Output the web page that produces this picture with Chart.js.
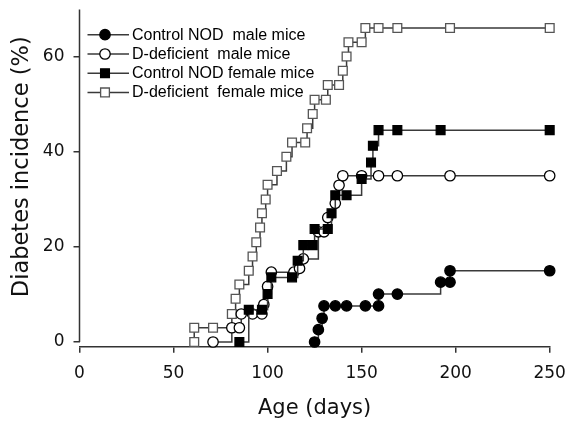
<!DOCTYPE html>
<html><head><meta charset="utf-8">
<script src="https://cdn.jsdelivr.net/npm/chart.js@4.4.0/dist/chart.umd.min.js"></script>
<style>html,body{margin:0;padding:0;background:#fff}#wrap{width:569px;height:423px}</style>
</head><body><div id="wrap"><canvas id="c" width="569" height="423"></canvas></div>
<script>
// ---- data ----
const seriesLabels = ['Control NOD  male mice', 'D-deficient  male mice', 'Control NOD female mice', 'D-deficient  female mice'];

const maleCtrlDays = [125, 127, 129, 130, 136, 142, 152, 159, 159, 169, 192, 197, 197, 250];
const maleCtrlPct  = [0, 2.6, 5.0, 7.6, 7.6, 7.6, 7.6, 7.6, 10.1, 10.1, 12.6, 12.6, 15.0, 15.0];

const maleDefDays = [71, 81, 85, 86, 92, 97, 98, 100, 102, 114, 117, 119, 127, 130, 132, 136, 138, 140, 150, 159, 169, 197, 250];
const maleDefPct  = [0, 3.0, 3.0, 5.9, 5.9, 5.9, 7.9, 11.7, 14.7, 14.7, 15.5, 17.5, 23.2, 23.2, 26.2, 29.2, 33.0, 35.0, 35.0, 35.0, 35.0, 35.0, 35.0];

const femaleCtrlDays = [85, 90, 97, 100, 102, 113, 116, 119, 124, 125, 132, 134, 136, 142, 150, 155, 156, 159, 169, 192, 250];
const femaleCtrlPct  = [0, 6.8, 6.8, 10.1, 13.6, 13.6, 17.1, 20.4, 20.4, 23.8, 23.8, 27.1, 30.9, 30.9, 34.3, 37.8, 41.3, 44.6, 44.6, 44.6, 44.6];

const femaleDefDays = [61, 61, 71, 81, 83, 85, 90, 92, 94, 96, 97, 99, 100, 105, 110, 113, 120, 121, 124, 125, 131, 132, 138, 140, 142, 143, 150, 152, 159, 169, 197, 250];
const femaleDefPct  = [0, 3.0, 3.0, 5.9, 9.1, 12.1, 15.0, 18.0, 21.0, 24.1, 27.1, 30.0, 33.1, 36.0, 39.0, 42.0, 42.0, 45.0, 48.0, 51.0, 51.0, 54.1, 54.1, 57.1, 60.1, 63.1, 63.1, 66.1, 66.1, 66.1, 66.1, 66.1];

const xTicks = [0, 50, 100, 150, 200, 250];
const yTicks = [0, 20, 40, 60];
const xTitle = 'Age (days)';
const yTitle = 'Diabetes incidence (%)';

// ---- styles ----
const LINE = '#3a3a3a';
const FONT = '"DejaVu Sans", Verdana, sans-serif';
const styles = [
  {shape: 'circle', r: 5.2, fill: '#000', stroke: '#000', order: 3},
  {shape: 'circle', r: 5.2, fill: '#fff', stroke: '#000', order: 1},
  {shape: 'rect',   r: 6.2, fill: '#000', stroke: '#000', order: 0},
  {shape: 'rect',   r: 6.2, fill: '#fff', stroke: '#555', order: 2}
];
const dayArrays = [maleCtrlDays, maleDefDays, femaleCtrlDays, femaleDefDays];
const pctArrays = [maleCtrlPct, maleDefPct, femaleCtrlPct, femaleDefPct];

const datasets = seriesLabels.map((lab, i) => ({
  label: lab,
  data: dayArrays[i].map((d, j) => ({x: d, y: pctArrays[i][j]})),
  stepped: true,
  borderColor: LINE,
  borderWidth: 1.5,
  fill: false,
  pointStyle: styles[i].shape,
  pointRadius: styles[i].r,
  pointBackgroundColor: styles[i].fill,
  pointBorderColor: styles[i].stroke,
  pointBorderWidth: 1.3,
  clip: false,
  order: styles[i].order
}));

function drawMarker(ctx, st, x, y) {
  ctx.save();
  ctx.fillStyle = st.fill; ctx.strokeStyle = st.stroke; ctx.lineWidth = 1.3;
  ctx.beginPath();
  if (st.shape === 'circle') ctx.arc(x, y, st.r, 0, Math.PI * 2);
  else { const h = st.r * Math.SQRT1_2; ctx.rect(x - h, y - h, 2 * h, 2 * h); }
  ctx.fill(); ctx.stroke();
  ctx.restore();
}

const axesPlugin = {
  id: 'yAxisLine',
  beforeDatasetsDraw(chart) {
    const {ctx, scales: {x, y}} = chart;
    const px = x.getPixelForValue(0);
    ctx.save();
    ctx.strokeStyle = '#333'; ctx.lineWidth = 1.5;
    ctx.beginPath();
    ctx.moveTo(px, y.getPixelForValue(0));
    ctx.lineTo(px, y.getPixelForValue(70));
    ctx.stroke();
    // y axis title, centred on the drawn axis span
    const cy = (y.getPixelForValue(0) + y.getPixelForValue(70)) / 2 - 9;
    ctx.translate(22, cy);
    ctx.rotate(-Math.PI / 2);
    ctx.font = '22.5px ' + FONT;
    ctx.fillStyle = '#111';
    ctx.textAlign = 'center';
    ctx.textBaseline = 'middle';
    ctx.fillText(yTitle, 0, 0);
    ctx.restore();
  }
};

const legendPlugin = {
  id: 'customLegend',
  afterDraw(chart) {
    const ctx = chart.ctx;
    const rows = [34.7, 54, 73.2, 92.4];
    ctx.save();
    ctx.font = '16px "Liberation Sans", Arial, sans-serif';
    ctx.textBaseline = 'middle';
    ctx.fillStyle = '#000';
    seriesLabels.forEach((lab, i) => {
      const yy = rows[i];
      ctx.strokeStyle = LINE; ctx.lineWidth = 1.5;
      ctx.beginPath(); ctx.moveTo(87.5, yy); ctx.lineTo(129, yy); ctx.stroke();
      drawMarker(ctx, styles[i], 105, yy);
      ctx.fillText(lab, 132, yy + 0.5);
    });
    ctx.restore();
  }
};

new Chart(document.getElementById('c'), {
  type: 'line',
  data: {datasets},
  plugins: [axesPlugin, legendPlugin],
  options: {
    responsive: false,
    animation: false,
    devicePixelRatio: 1,
    layout: {padding: {left: 0, right: 19.3, top: 9.5, bottom: 0}},
    plugins: {legend: {display: false}, tooltip: {enabled: false}},
    scales: {
      x: {
        type: 'linear', min: 0, max: 250,
        afterBuildTicks: s => { s.ticks = xTicks.map(v => ({value: v})); },
        afterFit: s => { s.height = 76.25; s.paddingLeft = 0; s.paddingRight = 0; },
        ticks: {font: {family: FONT, size: 17}, color: '#111', padding: 11, maxRotation: 0},
        grid: {display: true, drawOnChartArea: false, drawTicks: true, tickLength: 6, color: '#333', lineWidth: 1.5},
        border: {display: true, color: '#333', width: 1.5},
        title: {display: true, text: xTitle, font: {family: FONT, size: 21}, color: '#111', padding: {top: 0, bottom: 2}}
      },
      y: {
        type: 'linear', min: -1, max: 70,
        afterBuildTicks: s => { s.ticks = yTicks.map(v => ({value: v})); },
        afterFit: s => { s.width = 79.5; s.paddingTop = 0; s.paddingBottom = 0; },
        ticks: {font: {family: FONT, size: 17}, color: '#111', padding: 9},
        grid: {display: true, drawOnChartArea: false, drawTicks: true, tickLength: 6, color: '#333', lineWidth: 1.5},
        border: {display: false},
        title: {display: false}
      }
    }
  }
});
</script>
</body></html>
